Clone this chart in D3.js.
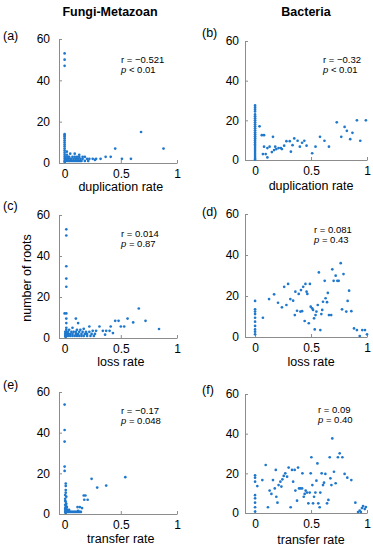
<!DOCTYPE html>
<html>
<head>
<meta charset="utf-8">
<script src="https://cdn.jsdelivr.net/npm/d3@7"></script>
<style>
  html, body { margin: 0; padding: 0; background: #fff; }
  svg { display: block; font-family: "Liberation Sans", Arial, Helvetica, sans-serif; }
</style>
</head>
<body>
<svg id="chart" width="373" height="550"></svg>
<script>
// ---------------- DATA ----------------
const columnTitles = ["Fungi-Metazoan", "Bacteria"];
const panelLetters = ["(a)", "(b)", "(c)", "(d)", "(e)", "(f)"];
const xLabels = ["duplication rate", "duplication rate", "loss rate", "loss rate", "transfer rate", "transfer rate"];
const yLabel = "number of roots";
const rValues = ["r = \u22120.521", "r = \u22120.32", "r = 0.014", "r = 0.081", "r = \u22120.17", "r = 0.09"];
const pValues = ["< 0.01", "< 0.01", "= 0.87", "= 0.43", "= 0.048", "= 0.40"];
const xTicks = [0, 0.5, 1];
const yTicks = [0, 20, 40, 60];

// (a) Fungi-Metazoan, duplication rate vs number of roots
const fmDup = [
  [0,53],[0,50],[0,47],[0,14],[0,13.5],[0,13],[0,12],[0,11],[0,10],[0,9],[0,8],[0,7],[0,6],[0,5],[0,4],[0,3],[0,2],[0,1],[0,0.5],
  [0.005,1],[0.01,1],[0.02,1],[0.03,1],[0.04,1],[0.05,1],[0.06,1],[0.07,1],[0.08,1],[0.09,1],[0.1,1],[0.11,1],[0.12,1],[0.13,1],[0.14,1],[0.15,1],
  [0.01,2],[0.02,2],[0.03,2],[0.05,2],[0.06,2],[0.08,2],[0.1,2],[0.12,2],[0.14,2],[0.16,2],
  [0.01,3],[0.03,3],[0.04,3],[0.07,3],[0.09,3],[0.11,3],[0.13,3],[0.16,3],[0.18,3],
  [0.02,4],[0.02,5.5],[0.05,4.5],[0.09,4.5],[0.13,4],[0.18,1],[0.21,1],[0.2,2],[0.22,2],[0.25,2],[0.27,1.5],[0.28,2],
  [0.32,2],[0.365,3],[0.41,3],[0.45,7],[0.51,2],[0.59,2],[0.68,15],[0.88,7]
];
// (b) Bacteria, duplication rate
const bDup = [
  [0,27.5],[0,26.5],[0,25.5],[0,24.5],[0,23],[0,22],[0,21],[0,20],[0,19],[0,18],[0,17],[0,16],[0,15],[0,14],[0,13],[0,12],
  [0,11],[0,10],[0,9],[0,8],[0,7],[0,6],[0,5],[0,4],[0,3],[0,2],[0,1],[0,0.3],
  [0.04,17],[0.06,12.5],[0.08,12.5],[0.08,6.7],[0.11,6],[0.07,3],[0.095,3],[0.11,1.3],[0.13,6.7],[0.16,11.7],
  [0.15,4],[0.17,5],[0.19,5.5],[0.18,6.7],[0.21,6],[0.23,6],[0.24,5.5],[0.26,7.2],[0.28,9.5],[0.31,9.5],[0.32,4.2],
  [0.335,7.5],[0.35,10.9],[0.38,9.7],[0.4,6.7],[0.42,8.7],[0.44,9.7],[0.46,7.2],[0.51,3.4],[0.54,6.7],[0.58,11.7],
  [0.62,9.7],[0.66,6.7],[0.73,19],[0.77,11.7],[0.8,16.7],[0.82,14.7],[0.85,10.5],[0.87,13.7],[0.91,20],[0.94,9.7],[0.99,20]
];
// (c) Fungi-Metazoan, loss rate
const fmLoss = [
  [0.015,53],[0.015,50],[0.015,35],[0.015,29],[0.015,25],[0,12],[0.015,12],[0.015,9.5],[0.015,7.3],[0.015,5],[0.015,4],
  [0.005,3],[0.015,3],[0.005,2],[0.015,2],[0.005,1],[0.015,1],[0.01,0.5],
  [0.03,1],[0.05,1],[0.07,1],[0.09,1],[0.11,1],[0.13,1],[0.15,1],[0.17,1],[0.2,1],[0.23,1],[0.26,1],
  [0.03,2],[0.05,2],[0.07,2],[0.1,2],[0.12,2],[0.15,2],[0.18,2],[0.2,2],[0.24,2],[0.27,2],
  [0.03,3],[0.06,3],[0.08,3],[0.1,3],[0.13,3],[0.16,3],[0.19,3],[0.22,3],
  [0.04,4],[0.07,5],[0.1,9.5],[0.12,7.3],[0.11,4],[0.14,4],[0.17,4.5],[0.22,5.6],[0.25,3.5],[0.28,3.5],[0.31,5.6],
  [0.34,3.5],[0.36,1.6],[0.37,3.5],[0.4,3.5],[0.41,5.6],[0.43,2.4],[0.45,8.4],[0.48,8.4],[0.5,5.6],[0.53,5.6],
  [0.56,9.5],[0.61,7.6],[0.66,14.4],[0.72,8.4],[0.84,4.4]
];
// (d) Bacteria, loss rate
const bLoss = [
  [0,17.6],[0,13.5],[0,12.4],[0,11.2],[0,9.4],[0,7.5],[0,5.4],[0,3.7],[0,2.6],[0,1.3],
  [0.07,9.4],[0.125,18.5],[0.17,20.8],[0.205,16.7],[0.24,14.5],[0.26,24.5],[0.28,15.6],[0.295,25.9],[0.315,18.5],
  [0.34,17.7],[0.355,10.7],[0.36,22.1],[0.375,12.8],[0.39,21],[0.405,12.4],[0.41,22.9],[0.42,12.6],[0.43,24.5],
  [0.443,7.8],[0.45,25.9],[0.46,22.1],[0.467,21],[0.48,6.7],[0.49,25.9],[0.497,14.8],[0.51,14],[0.518,13.2],
  [0.527,9.1],[0.533,3.7],[0.54,10.7],[0.548,12.4],[0.56,15.6],[0.57,31.5],[0.583,3.4],[0.592,11.2],[0.6,13.2],
  [0.607,17.2],[0.622,27.4],[0.63,18.9],[0.643,17],[0.65,21.5],[0.66,10.7],[0.68,10.7],[0.69,33],[0.702,27.4],
  [0.72,29.9],[0.735,27.4],[0.747,27.4],[0.765,36],[0.777,13.5],[0.79,30.7],[0.815,12.4],[0.827,17.6],[0.84,22.6],
  [0.86,12.6],[0.884,4.2],[0.91,3.4],[0.935,0.5],[0.958,3.4],[0.982,3.4],[1.0,1.3]
];
// (e) Fungi-Metazoan, transfer rate
const fmTrans = [
  [0,53.8],[0,41.3],[0,35.6],[0,23.3],[0,21.2],[0.01,15],[0.01,13.8],[0.01,11.8],[0.01,10.5],[0.005,9.3],[0.015,8.5],
  [0.005,7.5],[0.005,6.5],[0.01,6],[0.015,5],[0.005,4.5],[0.01,4],[0.02,3.5],[0.005,3],[0.015,2.5],[0.025,2],[0.005,2],
  [0.005,1],[0.015,1],[0.025,1],[0.035,1],[0.045,1],[0.055,1],[0.065,1],[0.075,1],[0.085,1],[0.095,1],[0.105,1],
  [0.115,1],[0.125,1],[0.135,1],[0.145,1],[0.03,1.5],[0.04,2],[0.01,0.5],
  [0.115,3.4],[0.135,3.4],[0.155,2.9],[0.12,1.5],[0.17,9.1],[0.185,9.1],[0.175,7],[0.205,7],
  [0.24,17.3],[0.29,13],[0.37,14],[0.54,18.1]
];
// (f) Bacteria, transfer rate
const bTrans = [
  [0,17.8],[0,15.8],[0.02,13.6],[0,19],[0,7.4],[0,5.2],[0,2.9],[0,0.7],[0,9],
  [0.065,16.6],[0.095,24.2],[0.115,2.9],[0.13,11.3],[0.146,9.6],[0.16,16.6],[0.176,12.4],[0.185,21.7],[0.19,8.2],
  [0.2,5.2],[0.21,14.1],[0.226,15.8],[0.235,13.3],[0.244,17],[0.256,18.7],[0.27,20],[0.286,18.3],[0.3,22.9],
  [0.318,2.9],[0.33,21.7],[0.34,15.8],[0.354,21.7],[0.36,11.3],[0.375,6.2],[0.384,22.9],[0.393,12.4],[0.405,12.4],
  [0.42,12.4],[0.423,20],[0.435,8.2],[0.443,9.6],[0.452,11.3],[0.464,10.3],[0.476,4.9],[0.488,10.3],[0.497,20],
  [0.503,28.1],[0.512,14.1],[0.518,4.9],[0.527,8.2],[0.539,10.3],[0.548,16.3],[0.557,25],[0.565,4.9],[0.577,2.9],
  [0.583,10.3],[0.595,20],[0.607,14.1],[0.616,15.3],[0.628,19.7],[0.643,4.9],[0.655,6.6],[0.667,28.1],[0.673,17.5],
  [0.682,14.1],[0.69,37.6],[0.705,20.8],[0.72,15],[0.74,28.1],[0.756,30.1],[0.78,28.1],[0.8,19.7],[0.824,17.8],
  [0.86,16.6],[0.896,5.2],[0.92,0.5],[0.935,1.2],[0.945,0.5],[0.955,2.5],[0.965,3.5],[0.98,2],[0.99,3]
];
const panelData = [fmDup, bDup, fmLoss, bLoss, fmTrans, bTrans];

// ---------------- LAYOUT ----------------
const svg = d3.select("#chart");
const blue = "#1f78cc";
const axisGray = "#8c8c8c";

// per-panel frame: left axis x, right end (x=1), xmin of domain, bottom (y=0), top (y=60)
const frames = [
  {l: 59,  r: 177, xmin: -0.05, b: 163, t: 39,  lab: [3, 40],   rp: [121, 63], xlY: 191, tickPad: 9},
  {l: 245, r: 367, xmin: -0.09, b: 160, t: 41,  lab: [202, 37], rp: [323, 63], xlY: 190, tickPad: 6},
  {l: 59,  r: 177, xmin: -0.05, b: 338, t: 215, lab: [3, 210],  rp: [121, 237], xlY: 366, tickPad: 9},
  {l: 245, r: 367, xmin: -0.09, b: 337, t: 214, lab: [202, 216], rp: [314, 233], xlY: 366, tickPad: 6},
  {l: 59,  r: 177, xmin: -0.05, b: 514, t: 392, lab: [3, 389],  rp: [121, 414], xlY: 543, tickPad: 9},
  {l: 245, r: 367, xmin: -0.09, b: 513, t: 394, lab: [202, 394], rp: [318, 413], xlY: 544, tickPad: 6}
];

// column titles
svg.append("text").attr("x", 110).attr("y", 16).attr("text-anchor", "middle")
  .attr("font-size", 12.5).attr("font-weight", "bold").text(columnTitles[0]);
svg.append("text").attr("x", 306).attr("y", 16).attr("text-anchor", "middle")
  .attr("font-size", 12.5).attr("font-weight", "bold").text(columnTitles[1]);

frames.forEach((f, i) => {
  const g = svg.append("g");
  const x = d3.scaleLinear().domain([f.xmin, 1]).range([f.l, f.r]);
  const y = d3.scaleLinear().domain([0, 60]).range([f.b, f.t]);

  // x axis
  const xa = g.append("g").attr("transform", `translate(0,${f.b})`)
    .call(d3.axisBottom(x).tickValues(xTicks).tickFormat(d3.format("")).tickSizeInner(-3).tickSizeOuter(0).tickPadding(6));
  // y axis
  const ya = g.append("g").attr("transform", `translate(${f.l},0)`)
    .call(d3.axisLeft(y).tickValues(yTicks).tickSizeInner(-3).tickSizeOuter(0).tickPadding(f.tickPad));
  [xa, ya].forEach(a => {
    a.select(".domain").attr("stroke", axisGray).attr("stroke-width", 1);
    a.selectAll(".tick line").attr("stroke", axisGray);
    a.selectAll(".tick text").attr("fill", "#000").attr("font-size", 12)
      .attr("font-family", "Liberation Sans, Arial, sans-serif");
  });

  // points
  g.append("g").selectAll("circle").data(panelData[i]).join("circle")
    .attr("cx", d => x(d[0])).attr("cy", d => y(d[1])).attr("r", 1.35).attr("fill", blue);

  // x label
  g.append("text").attr("x", x(0.5)).attr("y", f.xlY).attr("text-anchor", "middle")
    .attr("font-size", 12.5).text(xLabels[i]);

  // panel letter
  g.append("text").attr("x", f.lab[0]).attr("y", f.lab[1]).attr("font-size", 12.5).text(panelLetters[i]);

  // r and p annotations
  g.append("text").attr("x", f.rp[0]).attr("y", f.rp[1]).attr("font-size", 9.5).text(rValues[i]);
  const pt = g.append("text").attr("x", f.rp[0]).attr("y", f.rp[1] + 9.5).attr("font-size", 9.5);
  pt.append("tspan").attr("font-style", "italic").text("p");
  pt.append("tspan").text(" " + pValues[i]);
});

// y axis label
svg.append("text").attr("transform", "translate(31,278) rotate(-90)").attr("text-anchor", "middle")
  .attr("font-size", 12.5).text(yLabel);
</script>
</body>
</html>
